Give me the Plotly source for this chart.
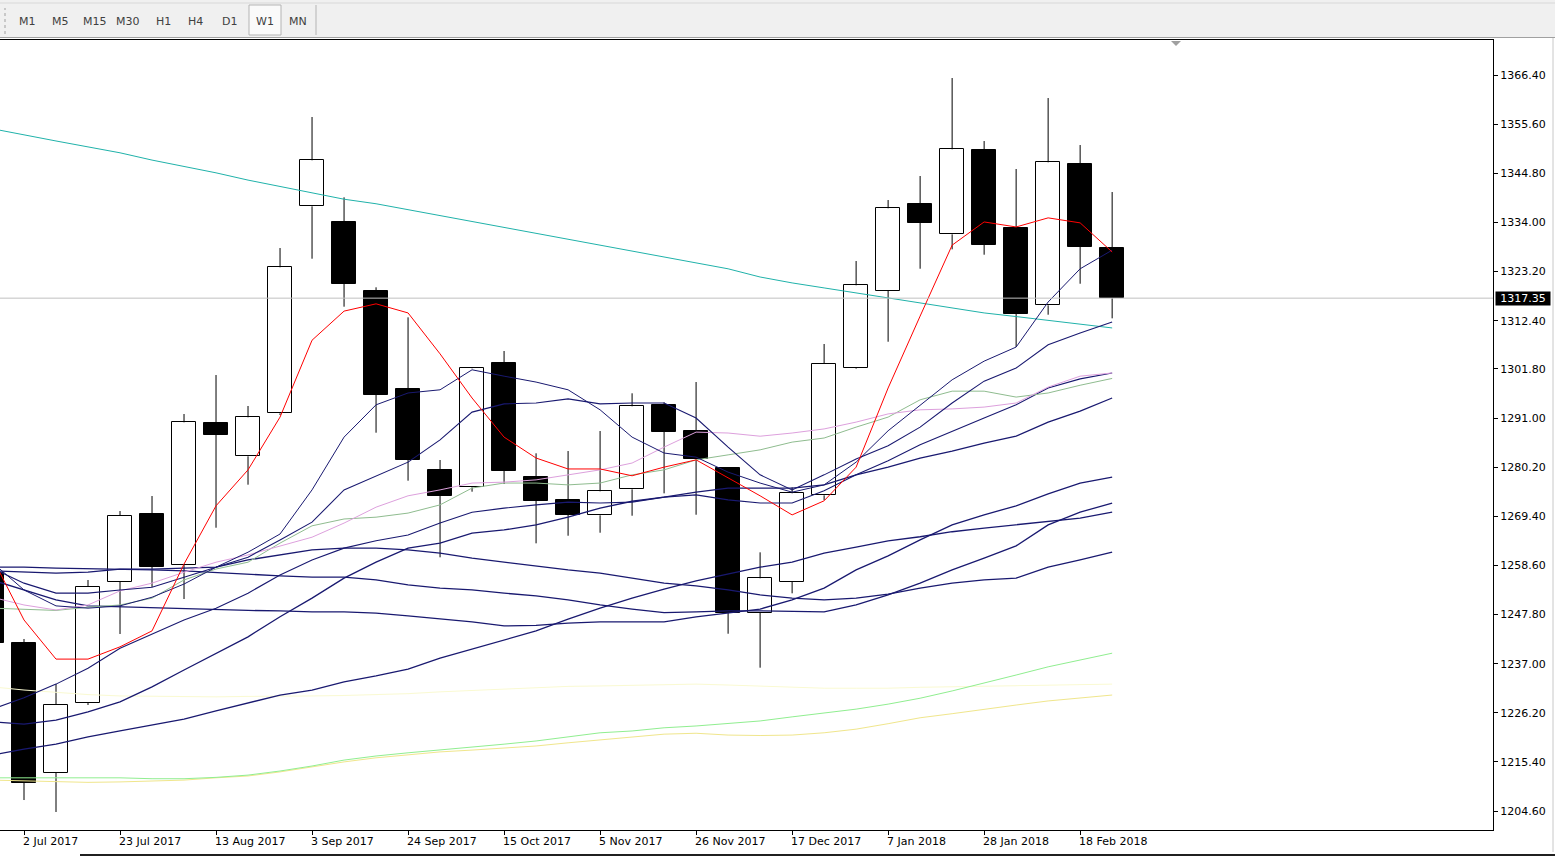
import pandas as pd
import plotly.graph_objects as go

# weekly candles (Sunday dated, MT4 style)
dates = [
    "2017-06-25", "2017-07-02", "2017-07-09", "2017-07-16", "2017-07-23", "2017-07-30",
    "2017-08-06", "2017-08-13", "2017-08-20", "2017-08-27", "2017-09-03", "2017-09-10",
    "2017-09-17", "2017-09-24", "2017-10-01", "2017-10-08", "2017-10-15", "2017-10-22",
    "2017-10-29", "2017-11-05", "2017-11-12", "2017-11-19", "2017-11-26", "2017-12-03",
    "2017-12-10", "2017-12-17", "2017-12-24", "2017-12-31", "2018-01-07", "2018-01-14",
    "2018-01-21", "2018-01-28", "2018-02-04", "2018-02-11", "2018-02-18", "2018-02-25",
]
opens = [1256.92, 1241.54, 1212.96, 1228.35, 1254.95, 1269.89, 1258.68, 1289.90, 1282.58,
         1292.03, 1337.54, 1334.02, 1318.92, 1297.37, 1279.57, 1275.76, 1303.09, 1277.96,
         1272.97, 1269.61, 1275.32, 1293.86, 1288.14, 1279.94, 1248.20, 1254.95, 1274.01,
         1301.92, 1318.92, 1338.04, 1331.38, 1349.91, 1332.77, 1315.77, 1346.84, 1328.37]
highs = [1258.46, 1242.42, 1232.52, 1255.39, 1270.55, 1273.85, 1291.88, 1300.45, 1293.64,
         1328.37, 1357.17, 1339.51, 1319.73, 1313.13, 1281.77, 1302.14, 1305.73, 1283.24,
         1283.74, 1288.14, 1296.43, 1294.45, 1298.91, 1280.23, 1261.47, 1275.76, 1307.27,
         1325.51, 1338.92, 1344.20, 1365.74, 1351.89, 1345.74, 1361.34, 1351.01, 1340.68]
lows = [1240.44, 1207.02, 1204.39, 1227.91, 1243.52, 1253.85, 1251.21, 1266.88, 1276.34,
        1291.66, 1326.02, 1315.47, 1287.77, 1277.22, 1260.38, 1274.80, 1276.49, 1263.45,
        1265.12, 1265.78, 1269.52, 1274.44, 1269.74, 1243.58, 1236.11, 1252.46, 1272.97,
        1301.77, 1307.77, 1323.82, 1328.08, 1326.90, 1306.61, 1313.71, 1320.52, 1312.91]
closes = [1241.54, 1210.76, 1227.91, 1253.85, 1269.46, 1258.35, 1290.05, 1287.33, 1291.15,
          1324.13, 1347.65, 1320.52, 1296.12, 1281.83, 1273.92, 1301.92, 1279.35, 1272.82,
          1269.74, 1274.88, 1293.57, 1287.99, 1281.92, 1248.20, 1255.76, 1274.44, 1302.87,
          1320.17, 1337.10, 1333.93, 1350.07, 1329.09, 1313.93, 1347.21, 1328.66, 1317.35]

# indicator lines, one value per candle
ma_red = [1260.4, 1246.6, 1238.0, 1238.0, 1240.7, 1244.2, 1258.9, 1271.7, 1279.6, 1291.2, 1308.1, 1314.5,
          1316.1, 1314.1, 1305.1, 1295.4, 1286.8, 1282.2, 1279.8, 1279.8, 1278.3, 1280.2, 1281.8, 1277.8,
          1273.9, 1269.7, 1272.8, 1280.2, 1297.6, 1313.4, 1329.0, 1334.1, 1333.0, 1335.0, 1333.9, 1327.5]
ma_cyan = [1354.6, 1353.2, 1351.9, 1350.6, 1349.3, 1347.7, 1346.3, 1344.9, 1343.3, 1341.9, 1340.5, 1339.1,
           1338.1, 1336.8, 1335.6, 1334.3, 1333.0, 1331.7, 1330.4, 1329.0, 1327.7, 1326.4, 1325.1, 1323.8,
           1322.0, 1320.7, 1319.6, 1318.5, 1317.4, 1316.3, 1315.2, 1314.1, 1313.3, 1312.5, 1311.7, 1310.8]
ma_plum = [1251.6, 1249.9, 1248.8, 1249.9, 1253.0, 1254.7, 1257.1, 1259.3, 1260.9, 1262.9, 1264.8, 1267.9,
           1271.4, 1273.9, 1275.2, 1276.7, 1276.9, 1277.4, 1278.5, 1279.6, 1281.1, 1284.6, 1287.9, 1287.7,
           1287.0, 1287.7, 1288.6, 1290.1, 1291.9, 1292.8, 1293.0, 1293.4, 1294.3, 1297.8, 1300.2, 1300.9]
ma_green = [1249.2, 1248.9, 1248.7, 1249.4, 1249.9, 1251.4, 1255.4, 1257.8, 1259.3, 1263.5, 1267.3, 1268.8,
            1269.2, 1270.1, 1271.9, 1275.6, 1276.7, 1276.7, 1276.3, 1276.7, 1278.5, 1279.6, 1281.8, 1282.9,
            1284.0, 1285.7, 1286.6, 1289.0, 1291.2, 1295.0, 1296.9, 1296.9, 1295.6, 1296.5, 1298.2, 1299.7]
ma_navy1 = [1259.3, 1253.2, 1249.7, 1249.2, 1249.7, 1251.6, 1254.5, 1258.2, 1261.5, 1265.5, 1275.2, 1286.8,
            1293.9, 1296.5, 1297.2, 1301.6, 1300.2, 1298.9, 1297.2, 1292.8, 1286.8, 1283.3, 1282.4, 1279.1,
            1276.7, 1274.7, 1276.3, 1281.3, 1288.2, 1293.9, 1299.4, 1303.5, 1306.6, 1316.5, 1323.8, 1327.9]
ma_navy2 = [1258.0, 1254.7, 1252.5, 1252.5, 1253.2, 1253.8, 1256.0, 1258.2, 1260.4, 1264.2, 1268.1, 1275.2,
            1278.3, 1281.3, 1286.2, 1292.3, 1294.1, 1294.3, 1295.2, 1294.1, 1294.3, 1294.3, 1291.0, 1284.6,
            1278.5, 1275.2, 1278.5, 1282.0, 1284.9, 1289.0, 1294.3, 1299.1, 1302.0, 1307.1, 1309.7, 1312.1]
ma_navy3 = [1227.0, 1229.5, 1232.5, 1236.0, 1240.4, 1243.5, 1246.6, 1249.2, 1252.5, 1256.5, 1259.8, 1262.4,
            1264.0, 1265.3, 1267.9, 1270.3, 1271.2, 1271.9, 1272.5, 1272.3, 1272.5, 1273.6, 1274.1, 1273.0,
            1272.3, 1272.3, 1275.0, 1278.5, 1281.6, 1285.1, 1288.1, 1291.0, 1293.9, 1297.6, 1299.6, 1300.9]
ma_navy4 = [1224.2, 1223.7, 1224.6, 1226.4, 1228.6, 1231.9, 1235.6, 1239.3, 1242.9, 1247.3, 1251.4, 1255.8,
            1259.3, 1262.4, 1263.5, 1265.7, 1266.4, 1267.5, 1269.2, 1271.2, 1272.7, 1273.6, 1274.7, 1275.6,
            1275.6, 1275.6, 1276.3, 1278.5, 1280.2, 1282.2, 1283.7, 1285.5, 1287.0, 1290.1, 1292.5, 1295.4]
ma_navy5 = [1255.4, 1253.2, 1251.0, 1249.7, 1249.5, 1249.2, 1249.0, 1248.8, 1248.7, 1248.6, 1248.4, 1248.4,
            1248.1, 1247.5, 1246.8, 1246.2, 1245.3, 1245.4, 1245.9, 1246.2, 1246.2, 1246.2, 1247.3, 1248.1,
            1249.0, 1251.0, 1253.6, 1257.6, 1260.7, 1264.2, 1267.5, 1269.7, 1271.7, 1274.3, 1276.7, 1278.0]
ma_navy6 = [1258.2, 1258.2, 1258.0, 1257.9, 1257.8, 1257.6, 1257.4, 1257.0, 1256.7, 1256.3, 1256.0, 1256.0,
            1255.4, 1254.3, 1253.6, 1253.2, 1252.5, 1251.9, 1251.0, 1249.9, 1249.0, 1248.2, 1248.4, 1248.6,
            1248.6, 1248.5, 1248.4, 1249.9, 1252.1, 1254.7, 1257.6, 1260.2, 1262.9, 1267.5, 1270.3, 1272.3]
ma_navy7 = [1216.9, 1218.2, 1219.3, 1220.9, 1222.2, 1223.5, 1224.8, 1226.6, 1228.4, 1230.1, 1231.2, 1233.0,
            1234.3, 1235.8, 1238.2, 1240.2, 1242.2, 1244.2, 1246.8, 1249.2, 1251.4, 1253.4, 1255.2, 1256.7,
            1258.2, 1259.3, 1261.3, 1262.6, 1264.0, 1264.9, 1266.0, 1266.8, 1267.5, 1268.2, 1269.0, 1270.3]
ma_navy8 = [1257.4, 1257.1, 1256.9, 1257.1, 1257.8, 1257.8, 1258.0, 1258.2, 1259.8, 1260.9, 1262.0, 1262.4,
            1262.4, 1262.0, 1261.3, 1260.2, 1259.3, 1258.5, 1257.6, 1256.9, 1255.8, 1254.7, 1254.1, 1253.2,
            1252.1, 1251.4, 1251.0, 1251.4, 1252.3, 1253.6, 1254.7, 1255.4, 1255.8, 1258.2, 1259.8, 1261.5]
ma_lightgreen = [1211.9, 1211.9, 1211.9, 1211.9, 1211.9, 1211.7, 1211.7, 1212.0, 1212.5, 1213.4, 1214.5, 1215.8,
                 1216.7, 1217.4, 1218.0, 1218.7, 1219.3, 1220.0, 1220.9, 1221.8, 1222.2, 1222.9, 1223.3, 1223.8,
                 1224.4, 1225.3, 1226.1, 1227.0, 1228.1, 1229.4, 1231.0, 1232.7, 1234.5, 1236.3, 1237.8, 1239.3]
ma_khaki = [1211.4, 1211.2, 1211.0, 1210.9, 1211.0, 1211.2, 1211.4, 1211.9, 1212.3, 1213.2, 1214.3, 1215.4,
            1216.3, 1216.9, 1217.6, 1218.0, 1218.5, 1218.9, 1219.6, 1220.2, 1220.9, 1221.5, 1221.7, 1221.3,
            1221.2, 1221.3, 1221.8, 1222.6, 1223.8, 1225.1, 1226.0, 1227.0, 1227.9, 1228.8, 1229.5, 1230.1]
ma_lemon = [1231.9, 1231.2, 1230.7, 1230.2, 1229.9, 1229.8, 1229.7, 1229.7, 1229.8, 1229.8, 1229.9, 1230.0,
            1230.2, 1230.4, 1230.8, 1231.1, 1231.4, 1231.8, 1232.0, 1232.1, 1232.2, 1232.4, 1232.5, 1232.3,
            1232.1, 1231.9, 1231.6, 1231.6, 1231.6, 1231.8, 1231.9, 1232.1, 1232.2, 1232.3, 1232.4, 1232.5]

price_ticks = [1204.60, 1215.40, 1226.20, 1237.00, 1247.80, 1258.60, 1269.40, 1280.20,
               1291.00, 1301.80, 1312.40, 1323.20, 1334.00, 1344.80, 1355.60, 1366.40]
last_price = 1317.35
timeframes = ["M1", "M5", "M15", "M30", "H1", "H4", "D1", "W1", "MN"]

FONT = "Tahoma, DejaVu Sans, sans-serif"
NAVY = "#191970"
W, H = 1555, 857
PLOT_R, PLOT_T, PLOT_B = 1493, 40, 830


def px(x):
    """screen x pixel -> paper x"""
    return x / PLOT_R


def py(y):
    """screen y pixel -> paper y"""
    return (PLOT_B - y) / (PLOT_B - PLOT_T)


fig = go.Figure()

# candle bodies
body_colors = ["white" if c >= o else "black" for o, c in zip(opens, closes)]
fig.add_trace(go.Bar(
    x=dates, y=[abs(c - o) for o, c in zip(opens, closes)],
    base=[min(o, c) for o, c in zip(opens, closes)],
    width=0.75 * 7 * 24 * 3600 * 1000,
    marker=dict(color=body_colors, line=dict(color="black", width=1)),
    hoverinfo="skip",
))

# wicks, drawn only outside the bodies
wx, wy = [], []
for d, o, h, l, c in zip(dates, opens, highs, lows, closes):
    top, bot = max(o, c), min(o, c)
    if h > top:
        wx += [d, d, None]
        wy += [h, top, None]
    if l < bot:
        wx += [d, d, None]
        wy += [bot, l, None]
fig.add_trace(go.Scatter(x=wx, y=wy, mode="lines", line=dict(color="black", width=1), hoverinfo="skip"))

lines = [
    (ma_lemon, "#FAFAD2", 1),
    (ma_khaki, "#F0E68C", 1),
    (ma_lightgreen, "#90EE90", 1),
    (ma_cyan, "#20B2AA", 1),
    (ma_navy8, NAVY, 1.3),
    (ma_navy7, NAVY, 1.3),
    (ma_navy6, NAVY, 1.3),
    (ma_navy5, NAVY, 1.3),
    (ma_navy4, NAVY, 1.3),
    (ma_navy3, NAVY, 1.1),
    (ma_green, "#8FBC8F", 1),
    (ma_plum, "#DDA0DD", 1),
    (ma_navy2, NAVY, 1.1),
    (ma_navy1, NAVY, 1),
    (ma_red, "#FF0000", 1),
]
for vals, color, width in lines:
    fig.add_trace(go.Scatter(x=dates, y=vals, mode="lines",
                             line=dict(color=color, width=width), hoverinfo="skip"))

first = pd.Timestamp(dates[1])
x_left = first - pd.Timedelta(days=7 * 0.75)
x_right = first + pd.Timedelta(days=7 * 45.9)

label_dates = [pd.Timestamp(d) for d in dates[1::3]]

annotations = []
for d in label_dates:
    annotations.append(dict(
        x=d, y=0, xref="x", yref="paper", text=f"{d.day} {d.strftime('%b %Y')}",
        showarrow=False, xanchor="left", yanchor="top", xshift=-3, yshift=-3,
        font=dict(family=FONT, size=11, color="black"),
    ))

# last price tag
annotations.append(dict(
    x=1, y=last_price, xref="paper", yref="y", text=f"{last_price:.2f}",
    showarrow=False, xanchor="left", yanchor="middle", xshift=2,
    bgcolor="black", font=dict(family=FONT, size=11, color="white"),
    width=54, height=13, borderpad=0,
))

# timeframe toolbar
tf_x = [27, 60, 95, 128, 163, 196, 230, 265, 298]
for label, x in zip(timeframes, tf_x):
    annotations.append(dict(
        x=px(x), y=py(21), xref="paper", yref="paper", text=label, showarrow=False,
        xanchor="center", yanchor="middle", font=dict(family=FONT, size=11, color="#404040"),
    ))

shapes = [
    # toolbar background
    dict(type="rect", xref="paper", yref="paper", x0=px(0), x1=px(W), y0=py(37), y1=py(0),
         fillcolor="#F0F0F0", line=dict(width=0), layer="below"),
    dict(type="line", xref="paper", yref="paper", x0=px(0), x1=px(W), y0=py(37.5), y1=py(37.5),
         line=dict(color="#A0A0A0", width=1)),
    dict(type="line", xref="paper", yref="paper", x0=px(0), x1=px(W), y0=py(3), y1=py(3),
         line=dict(color="#D8D8D8", width=1)),
    # pressed button
    dict(type="rect", xref="paper", yref="paper", x0=px(249), x1=px(281), y0=py(35), y1=py(5),
         fillcolor="#FAFAFA", line=dict(color="#B4B4B4", width=1)),
    # grip and separator
    dict(type="line", xref="paper", yref="paper", x0=px(5), x1=px(5), y0=py(34), y1=py(8),
         line=dict(color="#A0A0A0", width=1, dash="dot")),
    dict(type="line", xref="paper", yref="paper", x0=px(316), x1=px(316), y0=py(35), y1=py(5),
         line=dict(color="#B4B4B4", width=1)),
    # chart shift marker
    dict(type="path", xref="paper", yref="paper",
         path=f"M {px(1171)},{py(41)} L {px(1181)},{py(41)} L {px(1176)},{py(46)} Z",
         fillcolor="#A0A0A0", line=dict(width=0)),
    # last price line
    dict(type="line", xref="paper", yref="y", x0=0, x1=1, y0=last_price, y1=last_price,
         line=dict(color="#C0C0C0", width=1), layer="above"),
    # window edges
    dict(type="line", xref="paper", yref="paper", x0=px(1553), x1=px(1553), y0=py(852), y1=py(38),
         line=dict(color="#C8C8C8", width=1)),
    dict(type="line", xref="paper", yref="paper", x0=px(80), x1=px(W), y0=py(855), y1=py(855),
         line=dict(color="#202020", width=2)),
]

fig.update_layout(
    width=W, height=H, autosize=False,
    margin=dict(l=0, r=W - PLOT_R, t=PLOT_T, b=H - PLOT_B, pad=0),
    paper_bgcolor="white", plot_bgcolor="white",
    showlegend=False, bargap=0,
    font=dict(family=FONT, size=11, color="black"),
    annotations=annotations, shapes=shapes,
    xaxis=dict(
        type="date", range=[x_left, x_right], showgrid=False, zeroline=False,
        showline=True, linecolor="black", linewidth=1, mirror=True,
        ticks="outside", ticklen=4, tickcolor="black", tickwidth=1,
        tickvals=label_dates, showticklabels=False, fixedrange=True,
    ),
    yaxis=dict(
        side="right", range=[1200.43, 1374.10], showgrid=False, zeroline=False,
        showline=True, linecolor="black", linewidth=1,
        ticks="outside", ticklen=4, tickcolor="black", tickwidth=1,
        tickvals=price_ticks, ticktext=[f"{v:.2f}" for v in price_ticks],
        tickfont=dict(family=FONT, size=11, color="black"), fixedrange=True,
    ),
)

# the page is photographed at the window size, so drop the default body margin
fig.write_html("out.html", config={"displayModeBar": False},
               post_script="document.body.style.margin='0px';")
